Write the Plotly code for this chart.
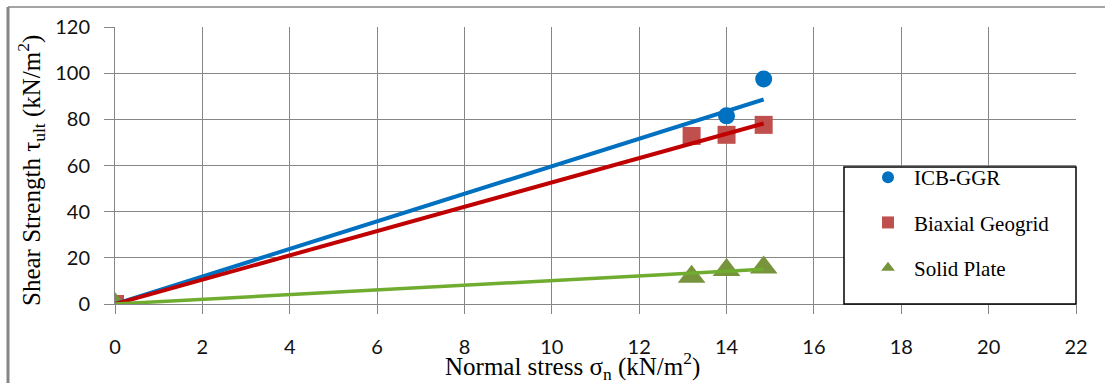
import plotly.graph_objects as go

# ---- data ----
icb_x = [0, 14.0, 14.85]
icb_y = [0, 81.5, 97.5]
biax_x = [0, 13.2, 14.0, 14.85]
biax_y = [0, 72.8, 73.3, 77.6]
solid_x = [0, 13.2, 14.0, 14.85]
solid_y = [0, 11.8, 14.7, 15.8]

trend_x = [0, 14.85]
icb_trend = [0, 88.6]
biax_trend = [0, 78.2]
solid_trend = [0, 15.1]

x_ticks = [0, 2, 4, 6, 8, 10, 12, 14, 16, 18, 20, 22]
y_ticks = [0, 20, 40, 60, 80, 100, 120]

BLUE = "#0070C0"
RED_LINE = "#C00000"
RED_MK = "#C0504D"
GREEN_LINE = "#6FAC2F"
GREEN_MK = "#77933C"
GRID = "#868686"

L, R, T, B = 115, 29, 27, 79
W, H = 1105, 383
pw, ph = W - L - R, H - T - B


def px(x):
    return (x - L) / pw


def py(y):
    return (H - B - y) / ph


fig = go.Figure()

fig.add_trace(go.Scatter(x=icb_x, y=icb_y, mode="markers", name="ICB-GGR",
                         legendgroup="a",
                         marker=dict(symbol="circle", size=17, color=BLUE)))
fig.add_trace(go.Scatter(x=biax_x, y=biax_y, mode="markers", name="Biaxial Geogrid",
                         legendgroup="b",
                         marker=dict(symbol="square", size=18, color=RED_MK)))
fig.add_trace(go.Scatter(x=solid_x, y=solid_y, mode="markers", name="Solid Plate",
                         legendgroup="c",
                         marker=dict(symbol="triangle-up", size=24, color=GREEN_MK)))

fig.add_trace(go.Scatter(x=trend_x, y=icb_trend, mode="lines", showlegend=False,
                         line=dict(color=BLUE, width=4), hoverinfo="skip"))
fig.add_trace(go.Scatter(x=trend_x, y=biax_trend, mode="lines", showlegend=False,
                         line=dict(color=RED_LINE, width=4), hoverinfo="skip"))
fig.add_trace(go.Scatter(x=trend_x, y=solid_trend, mode="lines", showlegend=False,
                         line=dict(color=GREEN_LINE, width=3.5), hoverinfo="skip"))

tick_font = dict(family="Lato, Open Sans, sans-serif", size=20, color="#111111")
title_font = dict(family="Liberation Serif", size=25, color="#000000")

fig.update_xaxes(range=[0, 22], tickmode="array", tickvals=x_ticks,
                 ticktext=[str(v) for v in x_ticks],
                 showgrid=True, gridcolor=GRID, gridwidth=1,
                 showline=True, linecolor=GRID, linewidth=1,
                 ticks="outside", ticklen=9, tickcolor=GRID,
                 ticklabelstandoff=16, tickfont=tick_font, zeroline=False)
fig.update_yaxes(range=[0, 120], tickmode="array", tickvals=y_ticks,
                 ticktext=[str(v) for v in y_ticks],
                 showgrid=True, gridcolor=GRID, gridwidth=1,
                 showline=True, linecolor=GRID, linewidth=1,
                 ticks="outside", ticklen=10, tickcolor=GRID,
                 ticklabelstandoff=10, tickfont=tick_font, zeroline=False)

# legend box
fig.add_shape(type="rect", xref="paper", yref="paper",
              x0=px(844), x1=px(1076), y0=py(304), y1=py(167),
              line=dict(color="#000000", width=1.5), fillcolor="#FFFFFF", layer="above")

# outer frame (left and top)
fig.add_shape(type="line", xref="paper", yref="paper",
              x0=px(8), x1=px(8), y0=py(7), y1=py(383),
              line=dict(color=GRID, width=3))
fig.add_shape(type="line", xref="paper", yref="paper",
              x0=px(8), x1=px(1105), y0=py(7), y1=py(7),
              line=dict(color=GRID, width=1.5))

fig.add_annotation(text="Normal stress σ<sub>n</sub> (kN/m<sup>2</sup>)",
                   xref="paper", yref="paper", x=px(572), y=py(366),
                   showarrow=False, font=title_font, xanchor="center", yanchor="middle")
fig.add_annotation(text="Shear Strength τ<sub>ult</sub> (kN/m<sup>2</sup>)",
                   xref="paper", yref="paper", x=px(31), y=py(171),
                   showarrow=False, font=title_font, textangle=-90,
                   xanchor="center", yanchor="middle")

fig.update_layout(
    width=W, height=H,
    margin=dict(l=L, r=R, t=T, b=B),
    paper_bgcolor="#FFFFFF", plot_bgcolor="#FFFFFF",
    showlegend=True,
    legend=dict(x=px(862), y=py(157), xanchor="left", yanchor="top",
                bgcolor="rgba(0,0,0,0)", borderwidth=0,
                font=dict(family="Liberation Serif", size=21, color="#000000"),
                tracegroupgap=15, itemsizing="constant", itemwidth=42),
)

fig.write_html("out.html")
